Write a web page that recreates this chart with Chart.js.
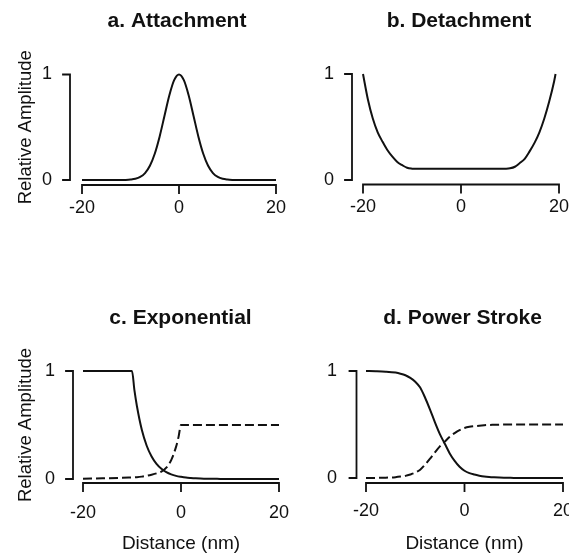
<!DOCTYPE html>
<html><head><meta charset="utf-8">
<script src="https://cdn.jsdelivr.net/npm/chart.js@4.4.0/dist/chart.umd.min.js"></script>
<style>
html,body{margin:0;padding:0;background:#fff;width:569px;height:555px;overflow:hidden;}
#wrap{position:relative;width:569px;height:555px;overflow:hidden;background:#fff;}
canvas{position:absolute;}
</style></head><body><div id="wrap">
<canvas id="ca"></canvas><canvas id="cb"></canvas><canvas id="cc"></canvas><canvas id="cd"></canvas>
</div>
<script>
// ---- tick labels ----
const xTickValues = [-20, 0, 20];
const yTickValues = [0, 1];
const panelTitles = ['a. Attachment', 'b. Detachment', 'c. Exponential', 'd. Power Stroke'];
const yAxisTitle = 'Relative Amplitude';
const xAxisTitle = 'Distance (nm)';

// ---- a. Attachment ----
const attachX = [-20,-15,-12,-11,-10,-9,-8,-7,-6,-5,-4,-3,-2,-1,0,1,2,3,4,5,6,7,8,9,10,11,12,15,20];
const attachY = [0,0,0,0.001,0.004,0.011,0.029,0.066,0.135,0.249,0.411,0.607,0.801,0.946,1,0.946,0.801,0.607,0.411,0.249,0.135,0.066,0.029,0.011,0.004,0.001,0,0,0];

// ---- b. Detachment ----
const detachX = [-20,-19,-18,-17,-16,-15,-14,-13,-12,-11,-10,-9,-5,0,5,8,9,10,11,12,13,14,15,16,17,18,19,19.3];
const detachY = [1.0,0.76,0.58,0.45,0.36,0.28,0.22,0.17,0.14,0.115,0.107,0.105,0.105,0.105,0.105,0.105,0.106,0.11,0.125,0.16,0.2,0.27,0.35,0.45,0.58,0.74,0.93,1.0];

// ---- c. Exponential ----
const expSolidX = [-20,-15,-10,-9.5,-9,-8,-7,-6,-5,-4,-3,-2,-1,0,1,2,3,4,5,6,8,10,15,20];
const expSolidY = [1,1,1,0.82,0.676,0.456,0.308,0.208,0.14,0.095,0.064,0.043,0.029,0.02,0.013,0.009,0.006,0.004,0.003,0.002,0.001,0,0,0];
const expDashX = [-20,-16,-12,-10,-9,-8,-7,-6,-5,-4,-3,-2,-1,-0.5,0,5,10,15,20];
const expDashY = [0.003,0.006,0.011,0.015,0.017,0.022,0.03,0.04,0.052,0.068,0.105,0.175,0.3,0.39,0.5,0.5,0.5,0.5,0.5];

// ---- d. Power Stroke ----
const psX = [-20,-18,-16,-14,-13,-12,-11,-10,-9,-8,-7,-6,-5,-4,-3,-2,-1,0,1,2,3,4,5,6,8,10,12,15,20];
const psSolidY = [1.0,0.998,0.994,0.985,0.975,0.96,0.935,0.9,0.845,0.75,0.64,0.52,0.41,0.32,0.23,0.16,0.105,0.068,0.045,0.032,0.022,0.014,0.009,0.006,0.002,0.001,0,0,0];
const psDashY = [0,0.001,0.003,0.008,0.013,0.02,0.033,0.05,0.078,0.125,0.18,0.24,0.295,0.34,0.385,0.42,0.448,0.467,0.478,0.484,0.489,0.493,0.496,0.497,0.499,0.5,0.5,0.5,0.5];

const FONT = '"Liberation Sans", Arial, Helvetica, sans-serif';
const INK = '#111';
const TITLE_SIZE = 21;

function pts(xs, ys){ return xs.map((x,i)=>({x:x, y:ys[i]})); }
function solid(xs, ys){ return {data:pts(xs,ys), borderColor:INK, borderWidth:2, pointRadius:0, fill:false, cubicInterpolationMode:'monotone', clip:false, yAxisID:'y'}; }
function dashed(xs, ys){ const d = solid(xs,ys); d.borderDash=[9,4]; return d; }

const axisPlugin = {
  id:'rAxes',
  afterDraw(chart, args, o){
    const ctx = chart.ctx, xs = chart.scales.x, ys = chart.scales.y;
    const x0 = xs.getPixelForValue(xTickValues[0]);
    const x1 = xs.getPixelForValue(xTickValues[xTickValues.length-1]);
    const y0 = ys.getPixelForValue(yTickValues[0]);
    const y1 = ys.getPixelForValue(yTickValues[yTickValues.length-1]);
    const ax = x0 - o.yGap, ay = y0 + o.xGap;
    ctx.save();
    ctx.strokeStyle = INK; ctx.lineWidth = 1.8; ctx.lineCap = 'square';
    ctx.beginPath();
    ctx.moveTo(ax, y1); ctx.lineTo(ax, y0);
    yTickValues.forEach(v=>{ const p = ys.getPixelForValue(v); ctx.moveTo(ax, p); ctx.lineTo(ax-7, p); });
    ctx.moveTo(x0, ay); ctx.lineTo(x1, ay);
    xTickValues.forEach(v=>{ const p = xs.getPixelForValue(v); ctx.moveTo(p, ay); ctx.lineTo(p, ay+8); });
    ctx.stroke();
    ctx.restore();
  }
};

function panel(id, box, area, titleText, titleMid, o, datasets){
  const cv = document.getElementById(id);
  cv.width = box.w; cv.height = box.h;
  cv.style.left = box.x+'px'; cv.style.top = box.y+'px';
  cv.style.width = box.w+'px'; cv.style.height = box.h+'px';
  const lh = TITLE_SIZE*1.2;
  const tTop = titleMid - box.y - lh/2;
  const tBot = (area.t - box.y) - tTop - lh;
  const rightW = (box.x+box.w)-area.r;
  new Chart(cv, {
    type:'line',
    data:{datasets:datasets},
    options:{
      responsive:false, animation:false, devicePixelRatio:1,
      layout:{padding:0},
      plugins:{
        legend:{display:false}, tooltip:{enabled:false},
        title:{display:true, text:titleText, color:INK, font:{family:FONT, size:TITLE_SIZE, weight:'bold', lineHeight:1.2}, padding:{top:tTop, bottom:tBot}},
        rAxes:{yGap:o.yGap, xGap:o.xGap}
      },
      scales:{
        x:{type:'linear', min:xTickValues[0], max:xTickValues[xTickValues.length-1],
          afterBuildTicks:s=>{ s.ticks = xTickValues.map(v=>({value:v})); },
          afterFit:s=>{ s.height = (box.y+box.h)-area.b; },
          grid:{display:false, drawTicks:false}, border:{display:false},
          ticks:{color:INK, font:{family:FONT, size:18}, padding:o.xPad, maxRotation:0, minRotation:0, autoSkip:false},
          title:{display:!!o.xTitle, text:o.xTitle||'', color:INK, font:{family:FONT, size:19, lineHeight:1.2}, padding:{top:0, bottom:0}}
        },
        y:{type:'linear', position:'left', min:yTickValues[0], max:yTickValues[yTickValues.length-1],
          afterBuildTicks:s=>{ s.ticks = yTickValues.map(v=>({value:v})); },
          afterFit:s=>{ s.width = area.l-box.x; },
          grid:{display:false, drawTicks:false}, border:{display:false},
          ticks:{color:INK, font:{family:FONT, size:18}, padding:o.yPad, autoSkip:false},
          title:{display:!!o.yTitle, text:o.yTitle||'', color:INK, font:{family:FONT, size:18.5, lineHeight:1.2}, padding:{top:14.4, bottom:0}}
        },
        yr:{type:'linear', position:'right', display:true, min:0, max:1,
          afterFit:s=>{ s.width = rightW; },
          grid:{display:false, drawTicks:false}, border:{display:false},
          ticks:{display:false}, title:{display:false}
        }
      }
    },
    plugins:[axisPlugin]
  });
}

panel('ca', {x:0, y:0, w:354, h:250}, {l:82, r:276, t:74.5, b:180}, panelTitles[0], 21,
  {yGap:12, xGap:5, yPad:30, xPad:17.2, yTitle:yAxisTitle},
  [solid(attachX, attachY)]);
panel('cb', {x:300, y:0, w:318, h:250}, {l:363, r:559, t:74, b:180}, panelTitles[1], 21,
  {yGap:11, xGap:4.5, yPad:29, xPad:16.7},
  [solid(detachX, detachY)]);
panel('cc', {x:0, y:280, w:361, h:275}, {l:83, r:279, t:371, b:479}, panelTitles[2], 318,
  {yGap:10, xGap:4, yPad:28, xPad:23, yTitle:yAxisTitle, xTitle:xAxisTitle},
  [solid(expSolidX, expSolidY), dashed(expDashX, expDashY)]);
panel('cd', {x:300, y:280, w:325, h:275}, {l:366, r:563, t:371, b:478}, panelTitles[3], 318,
  {yGap:9.5, xGap:5, yPad:29, xPad:22.7, xTitle:xAxisTitle},
  [solid(psX, psSolidY), dashed(psX, psDashY)]);
</script>
</body></html>
